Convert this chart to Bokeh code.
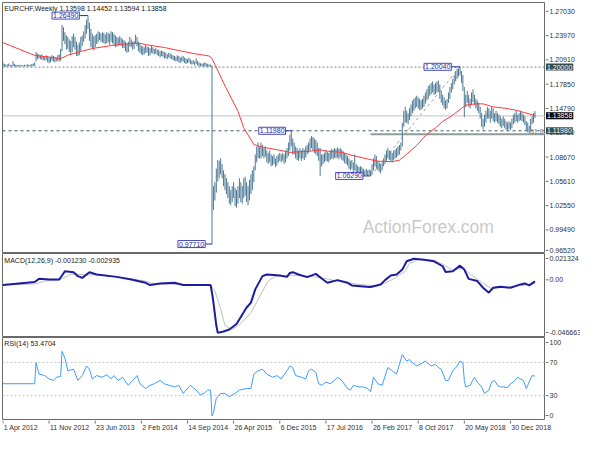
from bokeh.plotting import figure
from bokeh.layouts import column, row
from bokeh.models import (Range1d, Label, Span, ColumnDataSource)
from bokeh.core.properties import value
from bokeh.embed import file_html
from bokeh.resources import INLINE

# ---------------- data (week 0 = week of 1 Apr 2012) ----------------
x_tick_weeks = [0, 32, 64, 96, 128, 160, 192, 224, 256, 288, 320, 352]
x_tick_labels = ["1 Apr 2012", "11 Nov 2012", "23 Jun 2013", "2 Feb 2014",
                 "14 Sep 2014", "26 Apr 2015", "6 Dec 2015", "17 Jul 2016",
                 "26 Feb 2017", "8 Oct 2017", "20 May 2018", "30 Dec 2018"]

# weekly highs / lows in 1/10000 CHF
bar_high_pips = [
    12060, 12040, 12030, 12035, 12045, 12030, 12025, 12075, 12040, 12030,
    12025, 12030, 12028, 12025, 12022, 12030, 12025, 12035, 12030, 12028,
    12040, 12045, 12060, 12190, 12170, 12160, 12150, 12160, 12140, 12130,
    12150, 12140, 12120, 12130, 12150, 12140, 12130, 12120, 12150, 12160,
    12230, 12530, 12500, 12440, 12400, 12380, 12350, 12330, 12390, 12420,
    12380, 12320, 12280, 12310, 12380, 12400, 12450, 12530, 12600, 12649,
    12560, 12480, 12420, 12390, 12400, 12420, 12450, 12440, 12420, 12440,
    12430, 12410, 12440, 12430, 12420, 12450, 12440, 12420, 12400, 12380,
    12370, 12390, 12370, 12350, 12340, 12320, 12300, 12320, 12380, 12350,
    12320, 12330, 12410, 12380, 12320, 12300, 12270, 12260, 12250, 12280,
    12260, 12250, 12240, 12270, 12250, 12230, 12240, 12220, 12220, 12200,
    12210, 12200, 12190, 12180, 12160, 12180, 12170, 12160, 12150, 12140,
    12130, 12150, 12140, 12120, 12130, 12140, 12120, 12110, 12100, 12120,
    12100, 12080, 12090, 12070, 12110, 12080, 12060, 12050, 12040, 12050,
    12060, 12050, 12040, 12035, 12030, 12020, 10500, 10550, 10720, 10830,
    10820, 10850, 10780, 10700, 10650, 10600, 10550, 10500, 10450, 10500,
    10550, 10480, 10450, 10500, 10600, 10550, 10500, 10600, 10620, 10550,
    10500, 10580, 10650, 10700, 10750, 10900, 11000, 11050, 11000, 11050,
    11020, 10980, 11000, 10950, 10920, 10950, 10900, 10880, 10900, 10850,
    10880, 10900, 10920, 10900, 10920, 10900, 10950, 10980, 11050, 11150,
    11198, 11100, 11050, 11000, 10980, 10950, 10980, 10950, 10980, 10960,
    11000, 11020, 11050, 11100, 11130, 11120, 11100, 11080, 11050, 10980,
    10980, 10900, 10900, 10920, 10950, 10930, 10920, 10950, 10970, 10960,
    10980, 10970, 10990, 10970, 10980, 10960, 10940, 10920, 10900, 10880,
    10850, 10820, 10830, 10800, 10900, 10780, 10760, 10740, 10750, 10740,
    10720, 10700, 10720, 10700, 10710, 10700, 10780, 10850, 10900, 10880,
    10820, 10800, 10780, 10800, 10850, 10900, 10950, 10980, 10950, 10940,
    10920, 10950, 10960, 10980, 11000, 11020, 11050, 11300, 11450, 11500,
    11450, 11420, 11480, 11530, 11580, 11600, 11620, 11640, 11620, 11600,
    11580, 11600, 11640, 11680, 11720, 11760, 11780, 11800, 11820, 11780,
    11800, 11820, 11830, 11780, 11700, 11650, 11620, 11580, 11600, 11680,
    11750, 11800, 11850, 11900, 11950, 11980, 11980, 12004, 11950, 11900,
    11750, 11650, 11700, 11650, 11600, 11680, 11720, 11650, 11600, 11580,
    11550, 11500, 11420, 11350, 11400, 11450, 11500, 11480, 11450, 11500,
    11480, 11420, 11450, 11420, 11400, 11380, 11350, 11380, 11350, 11320,
    11300, 11320, 11300, 11350, 11400, 11420, 11450, 11400, 11420, 11450,
    11430, 11400, 11380, 11320, 11300, 11260, 11350, 11380, 11420, 11445,
]
bar_low_pips = [
    12010, 12005, 12005, 12008, 12010, 12008, 12005, 12010, 12008, 12005,
    12005, 12008, 12008, 12008, 12008, 12008, 12008, 12010, 12008, 12008,
    12010, 12010, 12015, 12070, 12100, 12110, 12100, 12090, 12090, 12080,
    12090, 12060, 12050, 12060, 12080, 12070, 12060, 12070, 12080, 12070,
    12080, 12200, 12330, 12290, 12220, 12230, 12190, 12150, 12190, 12250,
    12220, 12140, 12140, 12150, 12200, 12270, 12320, 12360, 12420, 12480,
    12330, 12250, 12230, 12210, 12250, 12290, 12310, 12340, 12320, 12310,
    12300, 12290, 12300, 12310, 12280, 12320, 12300, 12280, 12250, 12260,
    12270, 12280, 12270, 12240, 12240, 12200, 12180, 12190, 12260, 12250,
    12220, 12230, 12290, 12260, 12200, 12180, 12160, 12150, 12160, 12180,
    12180, 12140, 12150, 12180, 12170, 12160, 12170, 12150, 12140, 12120,
    12140, 12130, 12110, 12110, 12100, 12120, 12110, 12100, 12090, 12080,
    12070, 12080, 12060, 12050, 12070, 12070, 12050, 12040, 12050, 12060,
    12040, 12030, 12040, 12020, 12040, 12020, 12010, 12010, 12010, 12005,
    12010, 12005, 12005, 12005, 12005, 9771, 10200, 10320, 10420, 10560,
    10600, 10650, 10600, 10500, 10450, 10400, 10350, 10280, 10260, 10300,
    10350, 10250, 10230, 10280, 10350, 10300, 10280, 10350, 10380, 10300,
    10260, 10320, 10400, 10450, 10550, 10700, 10800, 10850, 10850, 10850,
    10880, 10850, 10870, 10800, 10780, 10800, 10750, 10760, 10780, 10740,
    10760, 10800, 10820, 10800, 10820, 10780, 10800, 10850, 10880, 10950,
    11000, 10900, 10900, 10850, 10830, 10820, 10850, 10820, 10850, 10830,
    10860, 10900, 10920, 10950, 10980, 10950, 10920, 10900, 10880, 10820,
    10630, 10750, 10780, 10800, 10820, 10810, 10800, 10830, 10850, 10840,
    10860, 10850, 10860, 10840, 10860, 10830, 10820, 10790, 10780, 10760,
    10720, 10700, 10720, 10680, 10700, 10680, 10660, 10650, 10660, 10650,
    10640, 10630, 10640, 10630, 10640, 10629, 10650, 10700, 10750, 10720,
    10700, 10680, 10660, 10700, 10750, 10780, 10820, 10850, 10830, 10820,
    10800, 10830, 10850, 10860, 10880, 10900, 10950, 11000, 11250, 11300,
    11300, 11280, 11330, 11380, 11420, 11450, 11480, 11500, 11480, 11460,
    11460, 11480, 11500, 11540, 11580, 11600, 11640, 11660, 11680, 11650,
    11660, 11680, 11690, 11600, 11550, 11520, 11480, 11460, 11480, 11550,
    11600, 11680, 11720, 11780, 11820, 11850, 11880, 11900, 11800, 11700,
    11370, 11500, 11550, 11500, 11480, 11520, 11560, 11520, 11480, 11450,
    11420, 11350, 11250, 11215, 11250, 11300, 11350, 11350, 11300, 11350,
    11320, 11300, 11320, 11300, 11280, 11250, 11230, 11260, 11230, 11210,
    11200, 11220, 11210, 11230, 11280, 11300, 11320, 11300, 11320, 11330,
    11320, 11300, 11270, 11200, 11180, 11170, 11200, 11280, 11300, 11359,
]

# red moving average (read at sample weeks)
ma_weeks = [0, 11, 22, 35, 40, 45, 55, 62, 75, 85, 95, 99, 112, 122, 132, 143,
            145, 154, 163, 167, 174, 181, 190, 199, 212, 220, 226, 235, 242,
            252, 260, 270, 275, 280, 287, 293, 300, 305, 312, 318, 322, 328,
            333, 340, 348, 356, 362, 369]
ma_values = [1.2308, 1.2228, 1.2148, 1.2119, 1.2107, 1.2151, 1.2201, 1.2234,
             1.2271, 1.2292, 1.2300, 1.2283, 1.2247, 1.2209, 1.2172, 1.2140,
             1.2110, 1.1765, 1.1444, 1.1235, 1.1025, 1.0988, 1.0960, 1.0926,
             1.0939, 1.0957, 1.0939, 1.0926, 1.0889, 1.0846, 1.0815, 1.0809,
             1.0828, 1.0902, 1.1013, 1.1136, 1.1235, 1.1315, 1.1395, 1.1482,
             1.1525, 1.1537, 1.1537, 1.1500, 1.1482, 1.1457, 1.1426, 1.1389]

macd_weeks = [0, 22, 25, 32, 39, 41, 43, 49, 52, 55, 60, 65, 79, 89, 99, 102,
              109, 119, 125, 132, 144, 145, 146, 148, 149, 153, 157, 162, 169,
              172, 175, 180, 183, 192, 197, 199, 201, 205, 211, 217, 222, 225,
              232, 239, 242, 252, 255, 262, 265, 269, 273, 277, 280, 285, 292,
              299, 305, 307, 312, 317, 320, 323, 329, 333, 337, 340, 345, 352,
              359, 362, 365, 369]
macd_values = [-0.0042, -0.0018, 0.0008, 0.0003, 0.0003, 0.0035, 0.0070, 0.0062,
               0.0030, 0.0016, 0.0062, 0.0043, 0.0024, 0.0003, -0.0024, -0.0042,
               -0.0029, -0.0024, -0.0042, -0.0042, -0.0042, -0.0104, -0.0184,
               -0.0370, -0.0429, -0.0418, -0.0402, -0.0357, -0.0224, -0.0184,
               -0.0077, 0.0030, 0.0043, 0.0035, 0.0024, 0.0056, 0.0062, 0.0043,
               0.0022, 0.0048, 0.0003, -0.0024, -0.0002, -0.0024, -0.0045,
               -0.0056, -0.0058, -0.0037, -0.0002, 0.0035, 0.0043, 0.0083,
               0.0150, 0.0171, 0.0163, 0.0150, 0.0110, 0.0064, 0.0070, 0.0115,
               0.0083, 0.0008, -0.0010, -0.0064, -0.0104, -0.0064, -0.0056,
               -0.0064, -0.0037, -0.0029, -0.0045, -0.0012]

signal_weeks = [0, 22, 29, 39, 42, 47, 52, 59, 65, 85, 99, 105, 132, 144, 147,
                151, 154, 159, 165, 172, 179, 184, 189, 199, 212, 222, 232, 245,
                259, 265, 272, 279, 282, 289, 299, 305, 312, 319, 325, 332, 339,
                342, 352, 362, 369]
signal_values = [-0.0042, -0.0034, -0.0010, -0.0002, 0.0014, 0.0046, 0.0046,
                 0.0038, 0.0042, 0.0014, -0.0010, -0.0034, -0.0038, -0.0042,
                 -0.0090, -0.0234, -0.0370, -0.0402, -0.0354, -0.0266, -0.0114,
                 -0.0010, 0.0030, 0.0038, 0.0030, 0.0014, -0.0010, -0.0034,
                 -0.0050, -0.0026, 0.0014, 0.0070, 0.0134, 0.0166, 0.0158,
                 0.0126, 0.0078, 0.0094, 0.0038, -0.0018, -0.0074, -0.0066,
                 -0.0058, -0.0042, -0.0029]

rsi_weeks = [0, 21, 22, 23, 25, 29, 32, 35, 37, 40, 41, 43, 45, 49, 52, 55, 58,
             60, 62, 65, 69, 72, 75, 77, 80, 83, 87, 90, 93, 95, 99, 102, 105,
             109, 112, 115, 119, 122, 125, 130, 134, 137, 140, 142, 144, 145,
             146, 148, 151, 154, 157, 161, 164, 169, 172, 174, 177, 180, 183,
             187, 190, 193, 197, 199, 201, 203, 207, 210, 212, 214, 217, 219,
             221, 224, 227, 230, 232, 235, 239, 241, 243, 247, 250, 253, 255,
             257, 260, 263, 267, 270, 273, 275, 277, 280, 282, 284, 287, 290,
             293, 297, 300, 302, 304, 307, 309, 312, 315, 317, 319, 320, 321,
             324, 327, 329, 332, 334, 337, 339, 341, 343, 345, 347, 350, 352,
             354, 357, 359, 361, 363, 365, 367, 369]
rsi_values = [44.3, 44.3, 44.3, 69.6, 55.9, 54.1, 50.1, 48.3, 52.1, 52.9,
              83.2, 75.4, 59.9, 61.8, 48.3, 54.1, 65.7, 61.8, 50.1, 54.1,
              52.1, 55.2, 50.1, 54.1, 48.3, 52.1, 42.4, 48.3, 54.1, 44.3,
              38.5, 42.4, 44.3, 48.3, 44.3, 42.4, 40.4, 42.4, 32.6, 42.4,
              36.6, 30.8, 33.4, 36.6, 36.6, 5.5, 9.3, 26.8, 32.6, 32.6,
              28.8, 32.6, 36.6, 38.5, 38.5, 55.9, 59.9, 61.8, 55.9, 52.1,
              54.1, 50.1, 59.9, 65.7, 63.8, 54.1, 52.1, 50.1, 59.9, 61.8,
              57.9, 44.3, 42.4, 46.3, 44.3, 48.3, 52.1, 48.3, 38.5, 36.6,
              42.4, 40.4, 40.4, 38.5, 34.6, 52.1, 44.3, 42.4, 63.8, 59.9,
              55.9, 67.6, 79.3, 71.6, 73.4, 69.6, 65.7, 68.4, 71.6, 65.7,
              67.6, 63.8, 61.8, 48.3, 48.3, 59.9, 65.7, 71.6, 69.6, 48.3,
              40.4, 42.4, 52.1, 46.3, 40.4, 32.6, 36.6, 46.3, 48.3, 42.4,
              40.4, 40.4, 39.6, 44.3, 46.3, 52.1, 50.1, 48.3, 38.5, 46.3,
              54.1, 53.5]

# axis ticks and highlighted levels
price_ticks = [0.9652, 0.9949, 1.0255, 1.0561, 1.0867, 1.1173, 1.1479, 1.1785,
               1.2091, 1.2397, 1.2703]
level_round = 1.2000
level_support = 1.1198
last_close = 1.13858
fib_low, fib_high, fib_ratio = 1.0629, 1.2004, 0.618
fib_low_week, fib_high_week = 255, 317

mark_weeks = [59, 145, 200, 255, 317]
mark_prices = [1.2649, 0.9771, 1.1198, 1.0629, 1.2004]
mark_texts = ["1.26490", "0.97710", "1.11980", "1.06290", "1.20040"]

macd_min, macd_max = -0.046663, 0.021324
macd_tick_labels = ["-0.046663", "0.00", "0.021324"]
rsi_levels = [30, 70]
rsi_tick_labels = ["0", "30", "70", "100"]

title_price = "EURCHF,Weekly  1.13598 1.14452 1.13594 1.13858"
title_macd = "MACD(12,26,9) -0.001230 -0.002935"
title_rsi = "RSI(14) 53.4704"

# ---------------- layout constants ----------------
FONT = "Liberation Sans"
FW = 543            # plotting frame width
SW = 35             # right scale strip width
X0, X_END = -0.3, 376.3
PXW = FW / (X_END - X0)
AX = "#6a6a6a"
TXT = "#303030"
H_PRICE, H_MACD, H_RSI, H_X = 251, 84, 83, 13

high = [h / 10000 for h in bar_high_pips]
low = [l / 10000 for l in bar_low_pips]
weeks = list(range(len(high)))

xr = Range1d(X0, X_END)


def make_panel(frame_h, yr, top):
    p = figure(frame_width=FW, frame_height=frame_h, x_range=xr, y_range=yr,
               output_backend="svg", toolbar_location=None,
               x_axis_location=None, y_axis_location=None,
               min_border_left=2, min_border_right=0,
               min_border_top=top, min_border_bottom=0)
    p.grid.visible = False
    p.outline_line_color = AX
    p.outline_line_width = 1
    p.background_fill_color = "white"
    p.border_fill_color = "white"
    return p


def make_strip(frame_h, yr, top, ticks, labels):
    s = figure(frame_width=SW, frame_height=frame_h, x_range=Range1d(0, SW),
               y_range=yr, output_backend="svg", toolbar_location=None,
               x_axis_location=None, y_axis_location=None,
               min_border_left=0, min_border_right=0,
               min_border_top=top, min_border_bottom=0)
    s.grid.visible = False
    s.outline_line_color = None
    s.background_fill_color = "white"
    s.border_fill_color = "white"
    s.segment(x0=[0] * len(ticks), y0=ticks, x1=[3] * len(ticks), y1=ticks,
              line_color=AX, line_width=1)
    s.text(x=[4] * len(ticks), y=ticks, text=labels, text_font=value(FONT),
           text_font_size=value("7px"), text_color=TXT,
           text_baseline="middle", text_align="left")
    return s


def small_label(p, x, y, text, **kw):
    opts = dict(text_font=FONT, text_font_size="7px", text_color="#202020",
                text_baseline="top", text_align="left")
    opts.update(kw)
    p.add_layout(Label(x=x, y=y, text=text, **opts))


# ---- price panel ----
yr1 = Range1d(0.9652, 1.2814)
p1 = make_panel(H_PRICE, yr1, 2)

p1.add_layout(Label(x=295, y=0.999, text="ActionForex.com", text_font=FONT,
                    text_font_size="17.5px", text_color="#c9c9c9",
                    text_align="center", text_baseline="middle", level="underlay"))

p1.add_layout(Span(location=last_close, dimension="width", line_color="#c4c4c4",
                   line_width=1, level="underlay"))
p1.add_layout(Span(location=level_round, dimension="width", line_color="#7a8585",
                   line_width=1, line_dash="2 2", level="underlay"))
p1.add_layout(Span(location=level_support, dimension="width", line_color="#3f5f5f",
                   line_width=1, line_dash="3 3", level="underlay"))

fib_level = fib_high - fib_ratio * (fib_high - fib_low)
p1.segment(x0=[fib_low_week], y0=[fib_level], x1=[X_END], y1=[fib_level],
           line_color="#8e9c9c", line_width=2, level="underlay")
p1.segment(x0=[fib_low_week], y0=[fib_low], x1=[fib_high_week], y1=[fib_high],
           line_color="#9aa0a0", line_width=1, line_dash="3 3", level="underlay")

src = ColumnDataSource(dict(w=weeks, hi=high, lo=low))
p1.segment(x0="w", y0="lo", x1="w", y1="hi", source=src,
           line_color="#4b7894", line_width=1)
p1.line(ma_weeks, ma_values, line_color="#ff3b3b", line_width=1)

small_label(p1, X_END, fib_level, "61.8", text_align="right",
            text_baseline="bottom", text_color="#708080", x_offset=-2)

conn = [6, 4.7, 4, 5.3, 6]
for w, pr, t, c in zip(mark_weeks, mark_prices, mark_texts, conn):
    p1.segment(x0=[w - c], y0=[pr], x1=[w], y1=[pr], line_color="#2a2aa0",
               line_width=1)
    p1.add_layout(Label(x=w - c, y=pr, text=t, text_font=FONT,
                        text_font_size="7px", text_color="#2a2a9a",
                        text_align="right", text_baseline="middle",
                        background_fill_color="white",
                        border_line_color="#4646c8", border_line_width=1,
                        padding=1))

small_label(p1, 1, 1.2782, title_price)

# bottom price label sits just above the panel edge
price_label_pos = [price_ticks[0] + 0.004] + price_ticks[1:]
price_labels = ["%.5f" % t for t in price_ticks]
s1 = make_strip(H_PRICE, yr1, 2, price_label_pos, price_labels)
for val, txt, bg in [(level_round, "1.20000", "#2f4f4f"),
                     (last_close, "1.13858", "#000000"),
                     (level_support, "1.11980", "#2f4f4f")]:
    s1.add_layout(Label(x=0.5, y=val, text=txt, text_font=FONT,
                        text_font_size="7px", text_color="white",
                        text_align="left", text_baseline="middle",
                        background_fill_color=bg, padding=1))

# ---- MACD panel ----
yr2 = Range1d(macd_min, macd_max)
p2 = make_panel(H_MACD, yr2, 0)
p2.line(signal_weeks, signal_values, line_color="#c0c0c0", line_width=1)
p2.line(macd_weeks, macd_values, line_color="#1c1ca0", line_width=2)
small_label(p2, 1, 0.0184, title_macd)
macd_label_pos = [macd_min + 0.0041, 0, macd_max - 0.0041]
s2 = make_strip(H_MACD, yr2, 0, macd_label_pos, macd_tick_labels)

# ---- RSI panel ----
yr3 = Range1d(0, 100)
p3 = make_panel(H_RSI, yr3, 0)
for lv in rsi_levels:
    p3.add_layout(Span(location=lv, dimension="width", line_color="#c8c8c8",
                       line_width=1, line_dash="2 2", level="underlay"))
p3.line(rsi_weeks, rsi_values, line_color="#3d9bff", line_width=1)
small_label(p3, 1, 97, title_rsi)
rsi_label_pos = [6, 30, 70, 94]
s3 = make_strip(H_RSI, yr3, 0, rsi_label_pos, rsi_tick_labels)

# ---- date strip ----
xs_end = X0 + (FW + SW) / PXW
px = figure(frame_width=FW + SW, frame_height=H_X, x_range=Range1d(X0, xs_end),
            y_range=Range1d(0, H_X), output_backend="svg", toolbar_location=None,
            x_axis_location=None, y_axis_location=None,
            min_border_left=2, min_border_right=0, min_border_top=0,
            min_border_bottom=0)
px.grid.visible = False
px.outline_line_color = None
px.background_fill_color = "white"
px.border_fill_color = "white"
px.segment(x0=x_tick_weeks, y0=[H_X] * len(x_tick_weeks), x1=x_tick_weeks,
           y1=[H_X - 3] * len(x_tick_weeks), line_color=AX, line_width=1)
px.text(x=[w + 0.6 for w in x_tick_weeks], y=[H_X - 3.5] * len(x_tick_weeks),
        text=x_tick_labels, text_font=value(FONT), text_font_size=value("7px"),
        text_color=TXT, text_baseline="top", text_align="left")

layout = column(row(p1, s1, spacing=0), row(p2, s2, spacing=0),
                row(p3, s3, spacing=0), px, spacing=0)
open("out.html", "w").write(file_html(layout, INLINE))
